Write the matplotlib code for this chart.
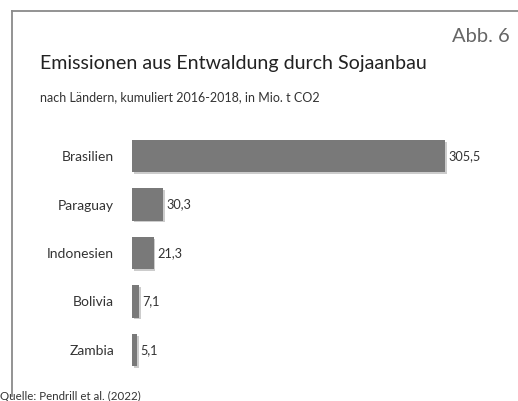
import matplotlib.pyplot as plt
import matplotlib.patheffects as pe
from matplotlib.lines import Line2D

plt.rcParams['font.family'] = ['Lato', 'DejaVu Sans']

# data
countries = ["Brasilien", "Paraguay", "Indonesien", "Bolivia", "Zambia"]
emissions = [305.5, 30.3, 21.3, 7.1, 5.1]
value_labels = ["305,5", "30,3", "21,3", "7,1", "5,1"]

W, H = 518, 401
fig = plt.figure(figsize=(W / 100, H / 100), dpi=100)
fig.patch.set_facecolor("white")

# frame lines (top and left)
fig.add_artist(Line2D([12 / W, 1], [1 - 11 / H, 1 - 11 / H], color="#8a8a8a", lw=1.3))
fig.add_artist(Line2D([12 / W, 12 / W], [1 - 11 / H, 1 - 396 / H], color="#8a8a8a", lw=1.3))

# texts
fig.text(510 / W, 1 - 37 / H, "Abb. 6", ha="right", va="center", fontsize=14.5, color="#666666")
fig.text(40 / W, 1 - 64 / H, "Emissionen aus Entwaldung durch Sojaanbau",
         ha="left", va="center", fontsize=14.1, color="#222222")
fig.text(40 / W, 1 - 97 / H, "nach Ländern, kumuliert 2016-2018, in Mio. t CO2",
         ha="left", va="center", fontsize=9.0, color="#333333")
fig.text(0, 1 - 396 / H, "Quelle: Pendrill et al. (2022)",
         ha="left", va="center", fontsize=8.3, color="#333333")

# axes placed in pixel coordinates
top_px, bot_px = 131.75, 374.25
left_px, right_px = 132, 511
ax = fig.add_axes([left_px / W, 1 - bot_px / H, (right_px - left_px) / W, (bot_px - top_px) / H])
ax.set_xlim(0, (right_px - left_px) / 1.0245)
ax.set_ylim(len(countries) - 0.5, -0.5)

bars = ax.barh(range(len(countries)), emissions, height=0.66, color="#797979", zorder=2)
for b in bars:
    b.set_path_effects([pe.SimplePatchShadow(offset=(1.2, -1.2), shadow_rgbFace="#cccccc", alpha=1.0),
                        pe.Normal()])

for i, (v, lab) in enumerate(zip(emissions, value_labels)):
    ax.annotate(lab, (v, i), xytext=(2.5, 0), textcoords="offset points",
                ha="left", va="center", fontsize=9.2, color="#333333")

ax.set_yticks(range(len(countries)))
ax.set_yticklabels(countries, fontsize=10, color="#333333")
ax.tick_params(axis="y", length=0, pad=13)
ax.set_xticks([])
for s in ax.spines.values():
    s.set_visible(False)

fig.savefig("out.png", dpi=100)
